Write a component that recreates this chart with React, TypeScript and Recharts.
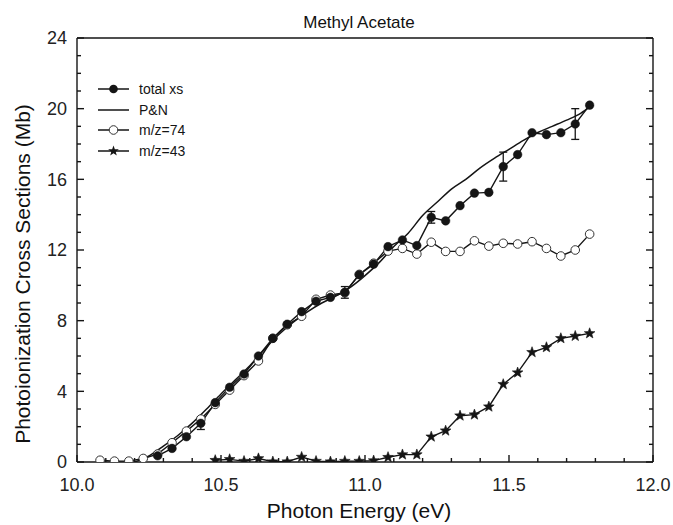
import React from 'react';
import { LineChart, Line, XAxis, YAxis, ErrorBar, Legend, Label } from 'recharts';

// Total photoionization cross section (filled circles)
const totalEnergy = [
  10.28, 10.33, 10.38, 10.43, 10.48, 10.53, 10.58, 10.63, 10.68, 10.73,
  10.78, 10.83, 10.88, 10.93, 10.98, 11.03, 11.08, 11.13, 11.18, 11.23,
  11.28, 11.33, 11.38, 11.43, 11.48, 11.53, 11.58, 11.63, 11.68, 11.73, 11.78,
];
const totalXs = [
  0.35, 0.77, 1.43, 2.19, 3.36, 4.23, 4.98, 6.0, 7.0, 7.8,
  8.51, 9.1, 9.32, 9.6, 10.6, 11.2, 12.19, 12.57, 12.25, 13.85,
  13.65, 14.51, 15.22, 15.26, 16.72, 17.4, 18.64, 18.53, 18.64, 19.13, 20.2,
];
const totalErr: (number | null)[] = [
  null, null, null, 0.35, null, null, null, null, null, null,
  null, null, null, 0.33, null, null, null, null, null, 0.33,
  null, null, null, null, 0.82, null, null, null, null, 0.87, null,
];

// Reference curve (P&N)
const pnEnergy = [
  10.2, 10.25, 10.3, 10.35, 10.4, 10.45, 10.5, 10.55, 10.6, 10.65,
  10.7, 10.75, 10.8, 10.85, 10.9, 10.95, 11.0, 11.05, 11.1, 11.15,
  11.2, 11.25, 11.3, 11.35, 11.4, 11.45, 11.5, 11.55, 11.6, 11.65,
  11.7, 11.75, 11.78,
];
const pnXs = [
  0.0, 0.35, 0.9, 1.5, 2.2, 3.0, 3.85, 4.65, 5.45, 6.35,
  7.2, 7.9, 8.5, 9.0, 9.4, 9.9, 10.55, 11.3, 12.2, 12.95,
  13.95, 14.7, 15.45, 16.0, 16.65, 17.2, 17.7, 18.2, 18.65, 19.0,
  19.35, 19.75, 20.1,
];

// Parent ion m/z=74 (open circles)
const parentEnergy = [
  10.08, 10.13, 10.18, 10.23, 10.28, 10.33, 10.38, 10.43, 10.48, 10.53,
  10.58, 10.63, 10.68, 10.73, 10.78, 10.83, 10.88, 10.93, 10.98, 11.03,
  11.08, 11.13, 11.18, 11.23, 11.28, 11.33, 11.38, 11.43, 11.48, 11.53,
  11.58, 11.63, 11.68, 11.73, 11.78,
];
const parentXs = [
  0.1, 0.05, 0.05, 0.2, 0.45, 1.09, 1.75, 2.43, 3.26, 4.07,
  4.89, 5.72, 7.0, 7.77, 8.25, 9.21, 9.45, 9.58, 10.62, 11.25,
  11.94, 12.09, 11.77, 12.44, 11.92, 11.92, 12.52, 12.22, 12.38, 12.34,
  12.47, 12.09, 11.66, 12.0, 12.9,
];

// Fragment ion m/z=43 (stars)
const fragEnergy = [
  10.48, 10.53, 10.58, 10.63, 10.68, 10.73, 10.78, 10.83, 10.88, 10.93,
  10.98, 11.03, 11.08, 11.13, 11.18, 11.23, 11.28, 11.33, 11.38, 11.43,
  11.48, 11.53, 11.58, 11.63, 11.68, 11.73, 11.78,
];
const fragXs = [
  0.1, 0.15, 0.05, 0.2, 0.02, 0.02, 0.28, 0.05, 0.02, 0.05,
  0.05, 0.08, 0.27, 0.42, 0.42, 1.43, 1.77, 2.62, 2.68, 3.13,
  4.4, 5.06, 6.21, 6.49, 7.0, 7.13, 7.28,
];

const xMajorTicks = [10.0, 10.5, 11.0, 11.5, 12.0];
const xMinorTicks = [
  10.1, 10.2, 10.3, 10.4, 10.6, 10.7, 10.8, 10.9,
  11.1, 11.2, 11.3, 11.4, 11.6, 11.7, 11.8, 11.9,
];
const yMajorTicks = [0, 4, 8, 12, 16, 20, 24];
const yMinorTicks = [1, 2, 3, 5, 6, 7, 9, 10, 11, 13, 14, 15, 17, 18, 19, 21, 22, 23];

const legendLabels = ['total xs', 'P&N', 'm/z=74', 'm/z=43'];

const FONT = '"Liberation Sans", Arial, sans-serif';
const INK = '#151515';
const MAJOR_LEN = 7;
const MINOR_LEN = 4;

const xAllTicks = [...xMajorTicks, ...xMinorTicks].sort((a, b) => a - b);
const yAllTicks = [...yMajorTicks, ...yMinorTicks].sort((a, b) => a - b);
const isMajor = (list: number[], v: number) => list.some((m) => Math.abs(m - v) < 1e-6);

const totalData = totalEnergy.map((x, i) => ({
  x,
  y: totalXs[i],
  err: totalErr[i] == null ? undefined : totalErr[i],
}));
const pnData = pnEnergy.map((x, i) => ({ x, y: pnXs[i] }));
const parentData = parentEnergy.map((x, i) => ({ x, y: parentXs[i] }));
const fragData = fragEnergy.map((x, i) => ({ x, y: fragXs[i] }));

function starPoints(cx: number, cy: number, outer: number, inner: number): string {
  const pts: string[] = [];
  for (let k = 0; k < 10; k++) {
    const r = k % 2 === 0 ? outer : inner;
    const a = -Math.PI / 2 + (k * Math.PI) / 5;
    pts.push(`${(cx + r * Math.cos(a)).toFixed(2)},${(cy + r * Math.sin(a)).toFixed(2)}`);
  }
  return pts.join(' ');
}

const StarDot = (props: any) => {
  const { cx, cy, index } = props;
  if (cx == null || cy == null) return <g key={`star-${index}`} />;
  return <polygon key={`star-${index}`} points={starPoints(cx, cy, 5.6, 2.3)} fill={INK} stroke={INK} strokeWidth={0.6} />;
};

// Inward-pointing tick marks drawn by hand so major and minor ticks share one axis
const BottomTick = (props: any) => {
  const { x, y, payload } = props;
  const major = isMajor(xMajorTicks, payload.value);
  return (
    <g>
      <line x1={x} y1={y} x2={x} y2={y - (major ? MAJOR_LEN : MINOR_LEN)} stroke={INK} strokeWidth={1.4} />
      {major && (
        <text x={x} y={y + 29} textAnchor="middle" style={{ fontFamily: FONT, fontSize: 18, fill: '#222' }}>
          {Number(payload.value).toFixed(1)}
        </text>
      )}
    </g>
  );
};
const TopTick = (props: any) => {
  const { x, y, payload } = props;
  const major = isMajor(xMajorTicks, payload.value);
  return <line x1={x} y1={y} x2={x} y2={y + (major ? MAJOR_LEN : MINOR_LEN)} stroke={INK} strokeWidth={1.4} />;
};
const LeftTick = (props: any) => {
  const { x, y, payload } = props;
  const major = isMajor(yMajorTicks, payload.value);
  return (
    <g>
      <line x1={x} y1={y} x2={x + (major ? MAJOR_LEN : MINOR_LEN)} y2={y} stroke={INK} strokeWidth={1.4} />
      {major && (
        <text x={x - 10} y={y} dy="0.36em" textAnchor="end" style={{ fontFamily: FONT, fontSize: 18, fill: '#222' }}>
          {payload.value}
        </text>
      )}
    </g>
  );
};
const RightTick = (props: any) => {
  const { x, y, payload } = props;
  const major = isMajor(yMajorTicks, payload.value);
  return <line x1={x} y1={y} x2={x - (major ? MAJOR_LEN : MINOR_LEN)} y2={y} stroke={INK} strokeWidth={1.4} />;
};

const LegendIcon = ({ kind }: { kind: number }) => (
  <svg width={32} height={14} style={{ display: 'block', flex: 'none' }}>
    <line x1={0} y1={7} x2={31} y2={7} stroke={INK} strokeWidth={1.5} />
    {kind === 0 && <circle cx={15.5} cy={7} r={4.3} fill={INK} />}
    {kind === 2 && <circle cx={15.5} cy={7} r={4.3} fill="#fff" stroke="#333" strokeWidth={1} />}
    {kind === 3 && <polygon points={starPoints(15.5, 7, 5.6, 2.3)} fill={INK} />}
  </svg>
);

const renderLegend = () => (
  <div style={{ fontFamily: FONT, fontSize: 14, color: INK }}>
    {legendLabels.map((label, i) => (
      <div key={label} style={{ display: 'flex', alignItems: 'center', height: 20.5 }}>
        <LegendIcon kind={i} />
        <span style={{ marginLeft: 9, whiteSpace: 'nowrap' }}>{label}</span>
      </div>
    ))}
  </div>
);

const axisLineStyle = { stroke: INK, strokeWidth: 1.4 };

export default function App() {
  return (
    <div style={{ position: 'absolute', left: 0, top: 0, background: '#fff' }}>
      <LineChart width={673} height={525} margin={{ top: 0, right: 0, bottom: 0, left: 0 }}>
        <XAxis
          xAxisId="x"
          type="number"
          dataKey="x"
          domain={[10, 12]}
          allowDataOverflow
          ticks={xAllTicks}
          interval={0}
          height={63}
          tickSize={0}
          tickMargin={0}
          tickLine={false}
          tick={BottomTick}
          axisLine={axisLineStyle}
        >
          <Label
            content={(p: any) => {
              const vb = p.viewBox || {};
              return (
                <text x={vb.x + vb.width / 2 - 6} y={vb.y + 56} textAnchor="middle" style={{ fontFamily: FONT, fontSize: 21, fill: '#111' }}>
                  Photon Energy (eV)
                </text>
              );
            }}
          />
        </XAxis>
        <XAxis
          xAxisId="top"
          orientation="top"
          type="number"
          domain={[10, 12]}
          allowDataOverflow
          ticks={xAllTicks}
          interval={0}
          height={38}
          tickSize={0}
          tickMargin={0}
          tickLine={false}
          tick={TopTick}
          axisLine={axisLineStyle}
        >
          <Label
            content={(p: any) => {
              const vb = p.viewBox || {};
              return (
                <text x={vb.x + vb.width / 2 - 6} y={vb.y + vb.height - 10} textAnchor="middle" style={{ fontFamily: FONT, fontSize: 17, fill: '#111' }}>
                  Methyl Acetate
                </text>
              );
            }}
          />
        </XAxis>
        <YAxis
          yAxisId="y"
          type="number"
          domain={[0, 24]}
          allowDataOverflow
          ticks={yAllTicks}
          interval={0}
          width={77}
          tickSize={0}
          tickMargin={0}
          tickLine={false}
          tick={LeftTick}
          axisLine={axisLineStyle}
        >
          <Label
            content={(p: any) => {
              const vb = p.viewBox || {};
              const cx = 22;
              const cy = vb.y + vb.height / 2 + 24;
              return (
                <text x={cx} y={cy} transform={`rotate(-90 ${cx} ${cy})`} textAnchor="middle" dominantBaseline="central" style={{ fontFamily: FONT, fontSize: 21, fill: '#111' }}>
                  Photoionization Cross Sections (Mb)
                </text>
              );
            }}
          />
        </YAxis>
        <YAxis
          yAxisId="right"
          orientation="right"
          type="number"
          domain={[0, 24]}
          allowDataOverflow
          ticks={yAllTicks}
          interval={0}
          width={20}
          tickSize={0}
          tickMargin={0}
          tickLine={false}
          tick={RightTick}
          axisLine={axisLineStyle}
        />

        <Line
          xAxisId="x"
          yAxisId="y"
          data={parentData}
          dataKey="y"
          type="linear"
          stroke={INK}
          strokeWidth={1.4}
          dot={{ r: 4.3, fill: '#fff', stroke: '#333', strokeWidth: 1 }}
          activeDot={false}
          isAnimationActive={false}
        />
        <Line
          xAxisId="x"
          yAxisId="y"
          data={pnData}
          dataKey="y"
          type="monotone"
          stroke={INK}
          strokeWidth={1.5}
          dot={false}
          activeDot={false}
          isAnimationActive={false}
        />
        <Line
          xAxisId="x"
          yAxisId="y"
          data={totalData}
          dataKey="y"
          type="linear"
          stroke={INK}
          strokeWidth={1.4}
          dot={{ r: 4.3, fill: INK, stroke: INK, strokeWidth: 0.5 }}
          activeDot={false}
          isAnimationActive={false}
        >
          <ErrorBar dataKey="err" direction="y" width={4} stroke={INK} strokeWidth={1.3} />
        </Line>
        <Line
          xAxisId="x"
          yAxisId="y"
          data={fragData}
          dataKey="y"
          type="linear"
          stroke={INK}
          strokeWidth={1.4}
          dot={StarDot}
          activeDot={false}
          isAnimationActive={false}
        />

        <Legend
          layout="vertical"
          align="center"
          verticalAlign="middle"
          content={renderLegend}
          wrapperStyle={{ left: 98, top: 79, width: 130, height: 82 }}
        />
      </LineChart>
    </div>
  );
}
